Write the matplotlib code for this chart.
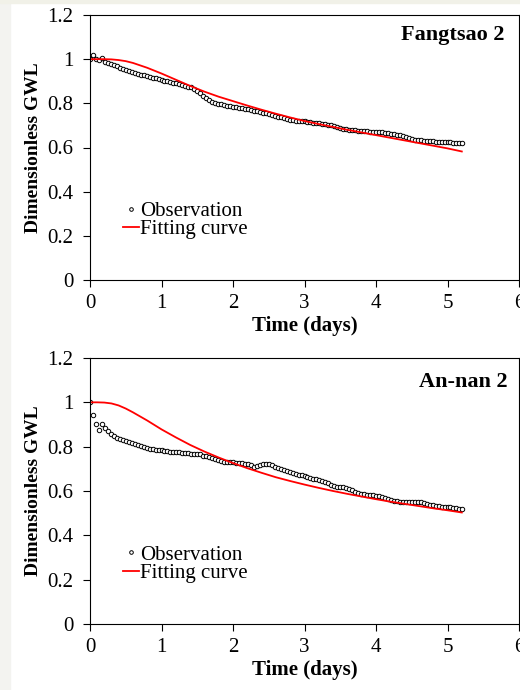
import matplotlib
matplotlib.use("Agg")
import matplotlib.pyplot as plt
import numpy as np
from matplotlib.ticker import FuncFormatter
from matplotlib.patches import Rectangle

plt.rcParams['font.family'] = ['Liberation Serif', 'DejaVu Serif']

# hourly observations (t = hour / 24 days)
obs_fangtsao = [
    1.000, 1.018, 1.003, 0.998, 1.004, 0.988, 0.983, 0.978, 0.972, 0.967, 0.962, 0.957,
    0.952, 0.947, 0.942, 0.937, 0.934, 0.930, 0.927, 0.923, 0.919, 0.916, 0.913, 0.910,
    0.906, 0.903, 0.899, 0.896, 0.893, 0.890, 0.887, 0.884, 0.879, 0.876, 0.872, 0.866,
    0.858, 0.846, 0.834, 0.822, 0.813, 0.806, 0.801, 0.798, 0.795, 0.792, 0.790, 0.788,
    0.785, 0.783, 0.780, 0.778, 0.776, 0.773, 0.770, 0.767, 0.764, 0.760, 0.757, 0.754,
    0.750, 0.747, 0.743, 0.740, 0.736, 0.732, 0.728, 0.726, 0.724, 0.722, 0.721, 0.720,
    0.719, 0.717, 0.715, 0.713, 0.711, 0.709, 0.707, 0.705, 0.703, 0.700, 0.697, 0.692,
    0.688, 0.684, 0.682, 0.680, 0.679, 0.678, 0.676, 0.675, 0.674, 0.673, 0.672, 0.671,
    0.670, 0.669, 0.668, 0.667, 0.665, 0.663, 0.661, 0.658, 0.655, 0.652, 0.648, 0.644,
    0.640, 0.636, 0.633, 0.632, 0.631, 0.630, 0.629, 0.628, 0.627, 0.626, 0.626, 0.625,
    0.624, 0.623, 0.622, 0.621, 0.621, 0.620,
]
obs_annan = [
    1.000, 0.945, 0.903, 0.875, 0.903, 0.882, 0.869, 0.858, 0.848, 0.840, 0.833, 0.828,
    0.824, 0.819, 0.815, 0.811, 0.806, 0.801, 0.797, 0.793, 0.790, 0.788, 0.786, 0.785,
    0.784, 0.782, 0.780, 0.778, 0.776, 0.775, 0.774, 0.773, 0.771, 0.770, 0.769, 0.768,
    0.767, 0.765, 0.760, 0.756, 0.752, 0.747, 0.744, 0.740, 0.736, 0.733, 0.731, 0.730,
    0.729, 0.728, 0.727, 0.725, 0.723, 0.720, 0.716, 0.710, 0.712, 0.718, 0.720, 0.721,
    0.720, 0.716, 0.710, 0.705, 0.700, 0.694, 0.690, 0.686, 0.682, 0.678, 0.674, 0.670,
    0.666, 0.662, 0.658, 0.655, 0.652, 0.648, 0.644, 0.640, 0.635, 0.629, 0.624, 0.620,
    0.618, 0.617, 0.614, 0.608, 0.603, 0.597, 0.592, 0.587, 0.585, 0.584, 0.583, 0.581,
    0.579, 0.576, 0.573, 0.569, 0.565, 0.561, 0.557, 0.554, 0.552, 0.552, 0.552, 0.551,
    0.551, 0.550, 0.550, 0.549, 0.547, 0.543, 0.539, 0.536, 0.534, 0.532, 0.530, 0.528,
    0.527, 0.526, 0.524, 0.522, 0.520, 0.517,
]

# fitting curves
fit_days = [0.0, 0.1, 0.2, 0.3, 0.4, 0.5, 0.6, 0.8, 1.0, 1.2, 1.4, 1.6, 1.8, 2.0, 2.2, 2.4,
            2.6, 2.8, 3.0, 3.2, 3.4, 3.6, 3.8, 4.0, 4.2, 4.4, 4.6, 4.8, 5.0, 5.2]
fit_fangtsao = [1.000, 1.000, 1.000, 0.999, 0.996, 0.991, 0.983, 0.961, 0.935, 0.907,
                0.879, 0.853, 0.830, 0.810, 0.790, 0.771, 0.753, 0.736, 0.720, 0.706,
                0.693, 0.680, 0.668, 0.656, 0.644, 0.632, 0.620, 0.608, 0.596, 0.582]
fit_annan = [1.000, 1.000, 0.999, 0.995, 0.986, 0.972, 0.955, 0.918, 0.878, 0.842,
             0.808, 0.778, 0.751, 0.726, 0.703, 0.682, 0.662, 0.645, 0.629, 0.614,
             0.600, 0.587, 0.575, 0.563, 0.552, 0.542, 0.532, 0.522, 0.513, 0.503]

names = ['Fangtsao 2', 'An-nan 2']

W, H = 520, 690
fig = plt.figure(figsize=(W / 100, H / 100), dpi=100)
fig.patch.set_facecolor('white')
# faint scan border on the left and top edges
fig.patches.append(Rectangle((0, 0), 10 / W, 1, transform=fig.transFigure,
                             color='#f3f3f0', zorder=0))
fig.patches.append(Rectangle((0, 1 - 3 / H), 1, 3 / H, transform=fig.transFigure,
                             color='#f1f1e8', zorder=0))

# (left, bottom, right, top) in pixels from top-left
boxes = [(90, 280, 519, 15), (90, 624, 519, 358)]
name_pos = [(0.967, 0.925), (0.974, 0.91)]

panels = [(obs_fangtsao, fit_fangtsao), (obs_annan, fit_annan)]

for i, (obs, fit) in enumerate(panels):
    l, b, r, t = boxes[i]
    ax = fig.add_axes([l / W, 1 - b / H, (r - l) / W, (b - t) / H])
    hours = np.arange(len(obs)) / 24.0
    ax.plot(hours, obs, linestyle='none', marker='o', ms=3.2, mfc='white',
            mec='black', mew=0.7, label='Observation')
    ax.plot(fit_days, fit, color='#ff0000', lw=1.3, label='Fitting curve')
    ax.set_xlim(0, 6)
    ax.set_ylim(0, 1.2)
    ax.set_xticks(range(7))
    ax.set_yticks([0, 0.2, 0.4, 0.6, 0.8, 1.0, 1.2])
    ax.yaxis.set_major_formatter(FuncFormatter(lambda v, p: '%g' % round(v, 1)))
    ax.tick_params(direction='out', length=5, width=0.8, labelsize=15, pad=5)
    ax.tick_params(axis='y', pad=7)
    for s in ax.spines.values():
        s.set_linewidth(0.8)
    ax.set_xlabel('Time (days)', fontsize=15, fontweight='bold', labelpad=2)
    ax.set_ylabel('Dimensionless GWL', fontsize=14, fontweight='bold', labelpad=4)
    ax.text(name_pos[i][0], name_pos[i][1], names[i], transform=ax.transAxes,
            ha='right', va='center', fontsize=16, fontweight='bold')
    leg = ax.legend(loc='center left', bbox_to_anchor=(0.077, 0.225), frameon=False,
                    fontsize=15, handlelength=0.75, handletextpad=0.05,
                    borderpad=0, borderaxespad=0, labelspacing=-0.05)
    leg.legend_handles[0].set_markersize(2.6)

fig.savefig('out.png', dpi=100)
